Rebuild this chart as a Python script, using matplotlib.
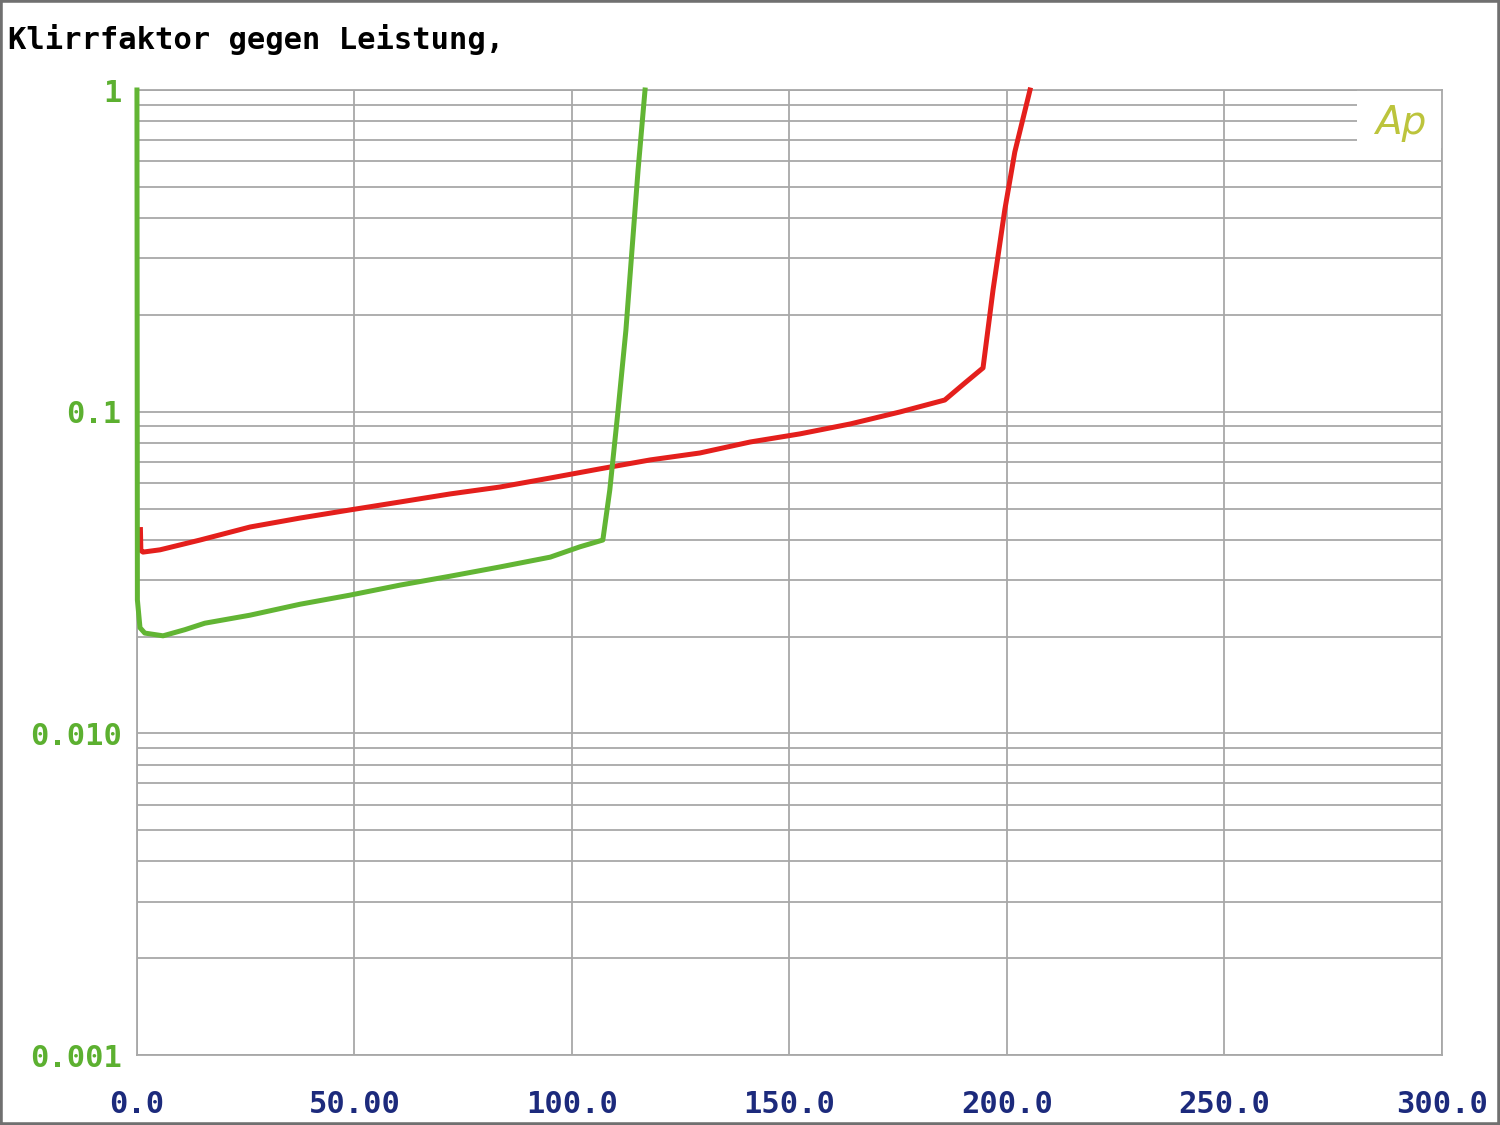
import matplotlib
matplotlib.use('Agg')
import matplotlib.pyplot as plt
from matplotlib.patches import Rectangle

# Klirrfaktor (THD+N, %) gegen Leistung (W)
red_w = [0.8, 0.9, 1.4, 5.3, 14.5, 26.0, 37.5, 49.0, 60.5, 72.0, 83.4, 95.0, 106.4,
         118.0, 129.4, 141.0, 152.4, 164.0, 175.4, 185.7, 190.3, 194.5, 196.8,
         199.5, 201.8, 205.3]
red_thd = [0.043, 0.037, 0.0366, 0.0372, 0.0399, 0.0438, 0.0467, 0.0495, 0.0524,
           0.0555, 0.0583, 0.0622, 0.0664, 0.0708, 0.0744, 0.0805, 0.0853, 0.0916,
           0.0998, 0.1087, 0.1227, 0.1368, 0.239, 0.424, 0.641, 1.0]

green_w = [0.0, 0.1, 0.7, 1.8, 6.0, 11.0, 15.6, 26.0, 37.5, 49.0, 60.5, 72.0, 83.4,
           95.0, 101.8, 107.1, 108.7, 110.6, 112.4, 113.8, 115.2, 116.8]
green_thd = [1.0, 0.026, 0.0213, 0.0205, 0.0201, 0.0210, 0.0220, 0.0233, 0.0252,
             0.0269, 0.0289, 0.0308, 0.0329, 0.0353, 0.0380, 0.0399, 0.0571, 0.101,
             0.179, 0.318, 0.564, 1.0]

x_ticks = [0, 50, 100, 150, 200, 250, 300]
x_labels = ['0.0', '50.00', '100.0', '150.0', '200.0', '250.0', '300.0']
y_ticks = [0.001, 0.01, 0.1, 1]
y_labels = ['0.001', '0.010', '0.1', '1']

grid_col = '#a8a8a8'
mono = 'DejaVu Sans Mono'

fig = plt.figure(figsize=(15, 11.25), dpi=100)
ax = fig.add_axes([0.0913, 0.0622, 0.87, 0.8578])

ax.plot(red_w, red_thd, color='#e41f1c', lw=3.6, solid_joinstyle='round',
        zorder=3, clip_on=False)
ax.plot(green_w, green_thd, color='#62b534', lw=3.6, solid_joinstyle='round',
        zorder=4, clip_on=False)

ax.set_yscale('log')
ax.set_xlim(0, 300)
ax.set_ylim(0.001, 1)
ax.set_axisbelow(True)
ax.grid(True, which='both', color=grid_col, lw=1.3)

ax.set_xticks(x_ticks)
ax.set_xticklabels(x_labels, fontfamily=mono, fontweight='bold', fontsize=22,
                   color='#1c2a7c')
ax.set_yticks(y_ticks)
ax.set_yticklabels(y_labels, fontfamily=mono, fontweight='bold', fontsize=22,
                   color='#5cb030')
ax.tick_params(axis='x', length=0, pad=25)
ax.tick_params(axis='y', which='both', length=0, pad=11)
for s in ax.spines.values():
    s.set_color(grid_col)
    s.set_linewidth(1.3)

# white box with the Ap logo in the top right corner
ax.add_patch(Rectangle((0.935, 0.94), 0.066, 0.062, transform=ax.transAxes,
                       facecolor='white', edgecolor='none', zorder=1, clip_on=False))
ax.text(0.968, 0.966, 'Ap', transform=ax.transAxes, fontsize=28, style='italic',
        fontweight='light', color='#bcc43c', ha='center', va='center', zorder=2)

fig.text(0.005, 0.965, 'Klirrfaktor gegen Leistung,', fontfamily=mono,
         fontweight='bold', fontsize=22, color='black', ha='left', va='center')

fig.add_artist(Rectangle((0, 0), 1, 1, transform=fig.transFigure, fill=False,
                         edgecolor='#707070', lw=4))

plt.savefig('out.png', dpi=100)
plt.close()
